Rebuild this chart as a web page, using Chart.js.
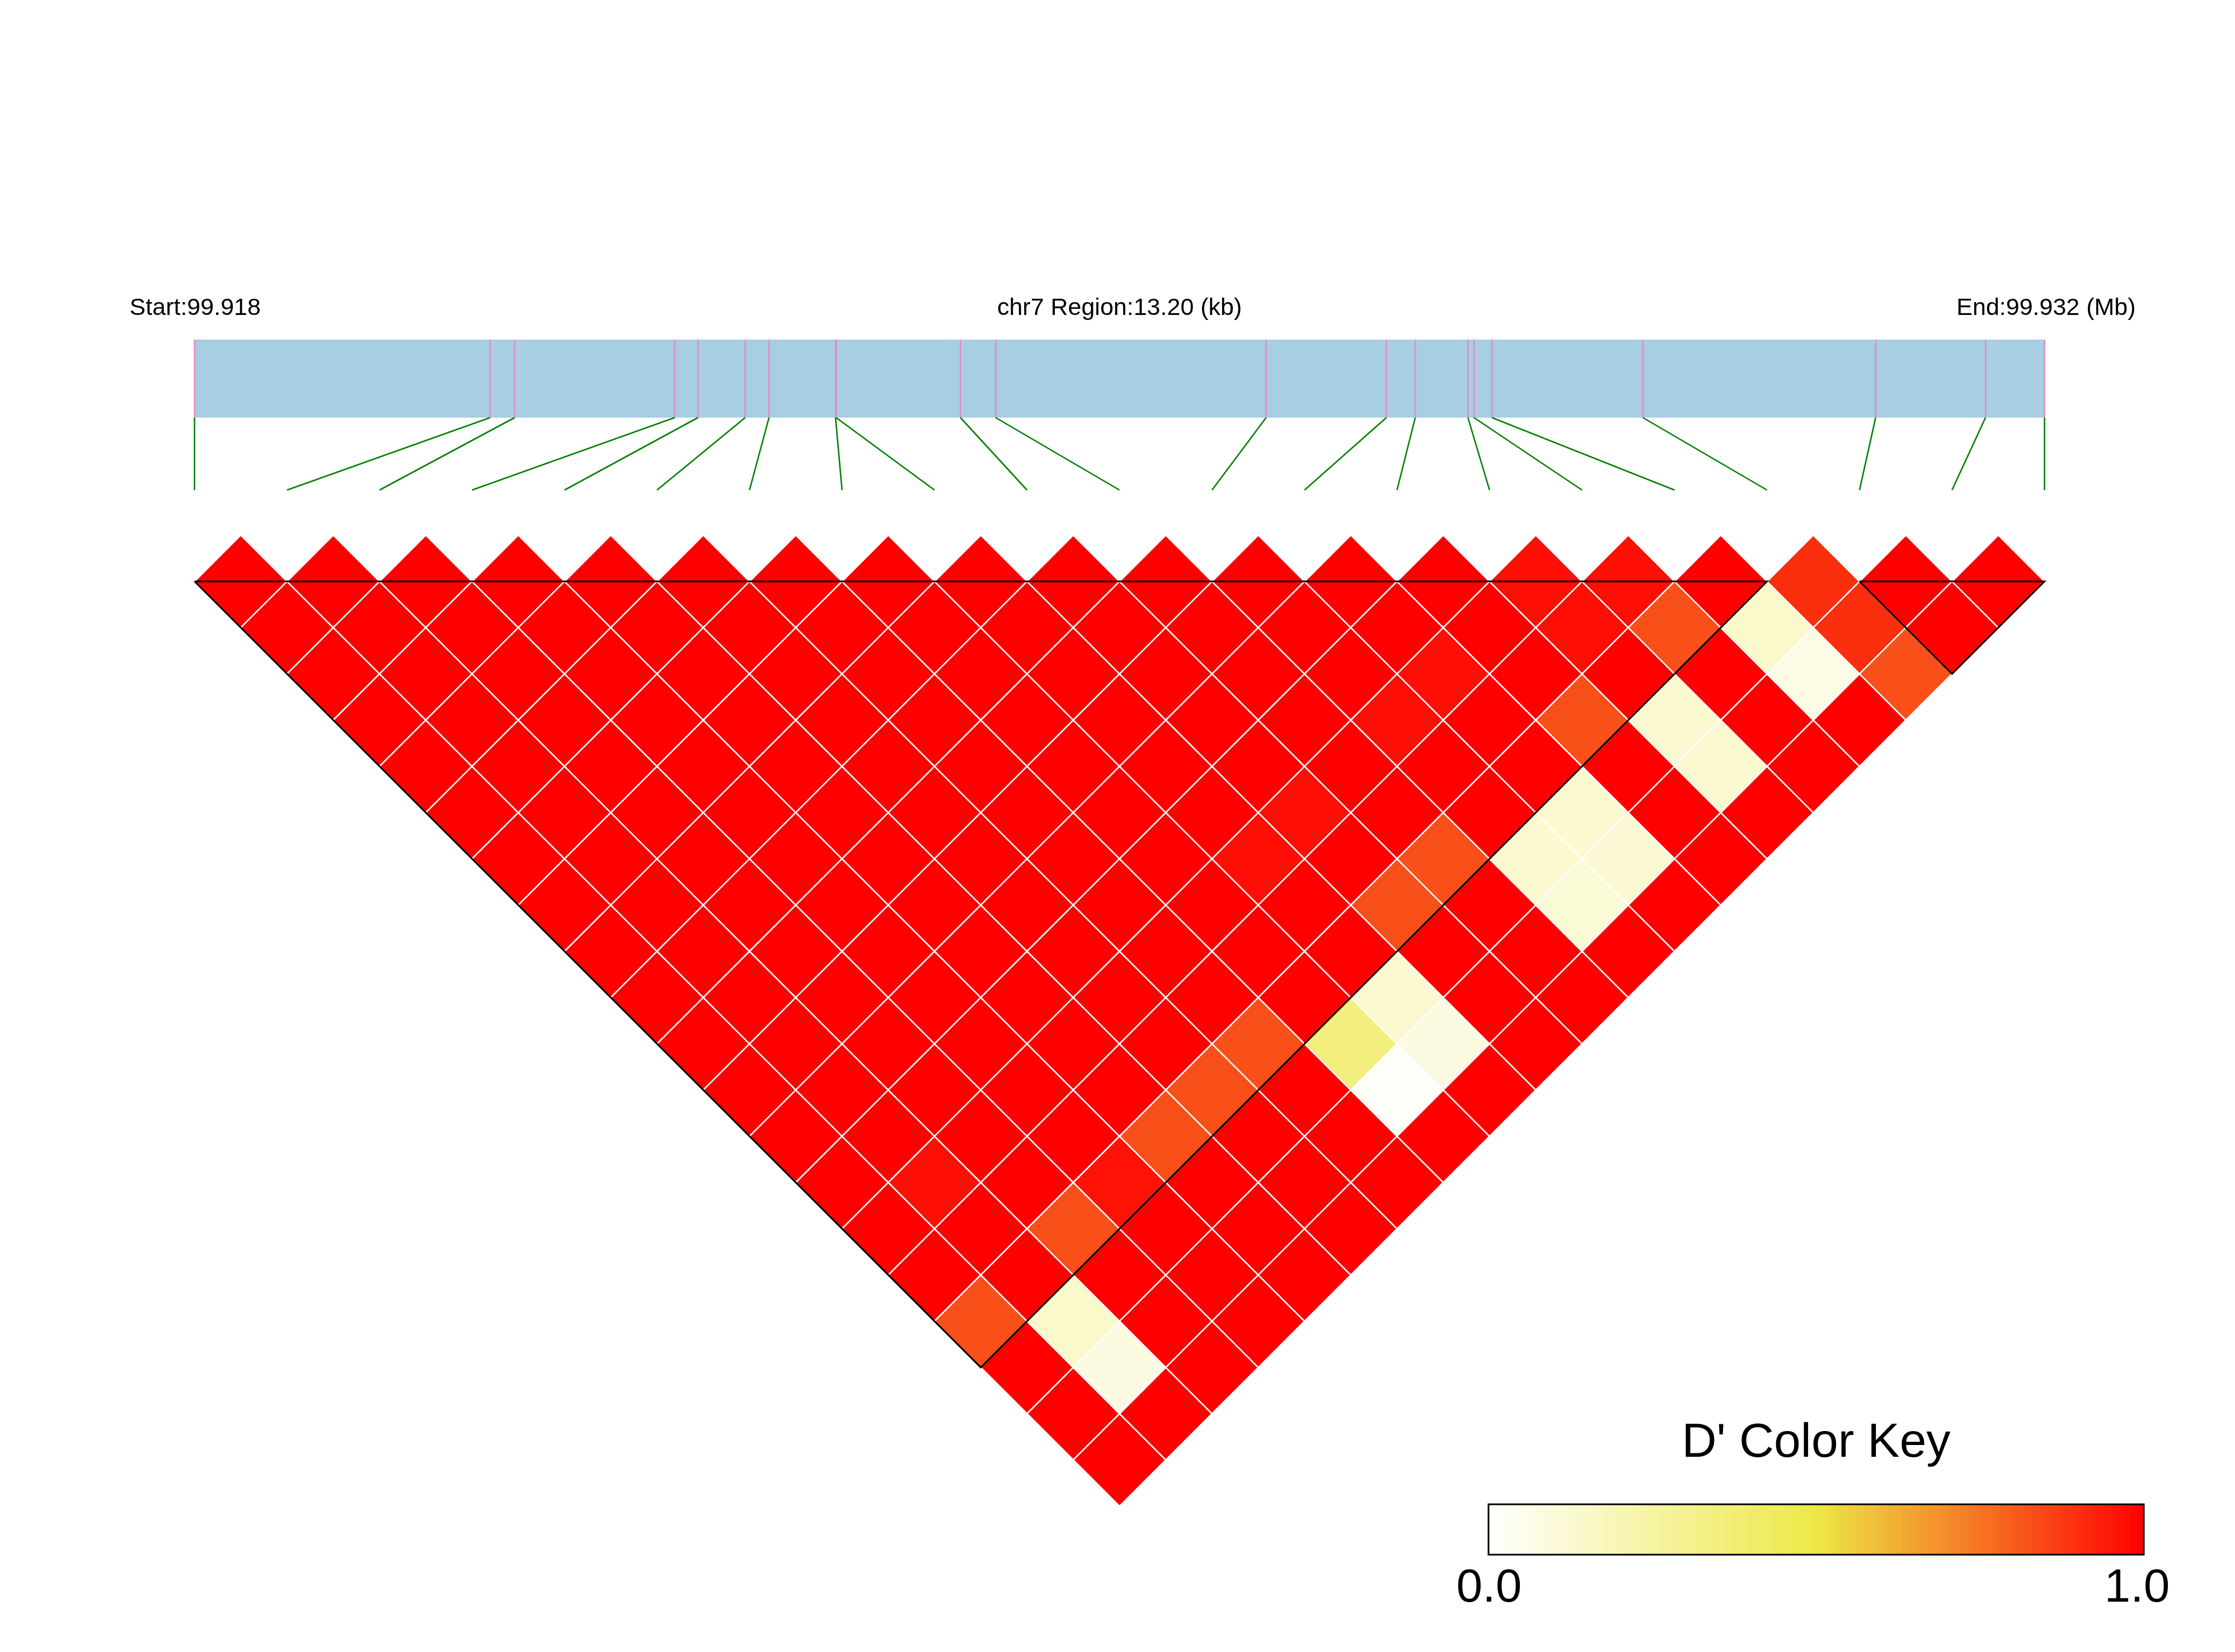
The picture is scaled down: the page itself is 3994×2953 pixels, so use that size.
<!DOCTYPE html>
<html>
<head>
<meta charset="utf-8">
<script src="https://cdn.jsdelivr.net/npm/chart.js@4.4.0/dist/chart.umd.min.js"></script>
<style>
html,body{margin:0;padding:0;background:#ffffff;}
canvas{display:block;}
</style>
</head>
<body>
<canvas id="c" width="3994" height="2953"></canvas>
<script>
// ---------------- DATA ----------------
const chromName = 'chr7';
const startLabel = 'Start:99.918';
const regionLabel = 'chr7 Region:13.20 (kb)';
const endLabel = 'End:99.932 (Mb)';
const regionLenBp = 13200;
// SNP positions (bp offset from region start)
const snpOffsetBp = [0, 2109, 2284, 3426, 3592, 3929, 4099, 4574, 4578, 5465, 5716,
                     7646, 8504, 8710, 9086, 9129, 9257, 10334, 11995, 12779, 13200];
// D' upper triangle: row i holds values for j = i+1 .. 20
const dRow0  = [1,1,1,1,1,1,1,1,1,1,1,1,1,1,1,1,0.83,1,1,1];
const dRow1  = [1,1,1,1,1,1,1,1,1,1,1,1,1,0.97,1,1,0.14,0.08,1];
const dRow2  = [1,1,1,1,1,1,1,1,1,1,1,1,1,1,0.83,1,1,1];
const dRow3  = [1,1,1,1,1,1,1,1,1,1,1,1,1,0.96,1,1,1];
const dRow4  = [1,1,1,1,1,1,1,1,1,1,1,1,0.83,1,1,1];
const dRow5  = [1,1,1,1,1,1,1,1,1,1,1,0.83,1,1,1];
const dRow6  = [1,1,1,1,1,1,1,1,1,1,0.83,1,1,1];
const dRow7  = [1,1,1,1,1,1,1,1,1,1,0.35,0.02,1];
const dRow8  = [1,1,1,1,1,1,0.97,1,1,0.13,0.08,1];
const dRow9  = [1,1,1,1,1,0.97,1,0.83,1,1,1];
const dRow10 = [1,1,1,1,1,1,0.83,1,1,1];
const dRow11 = [1,1,1,0.97,1,1,0.13,0.11,1];
const dRow12 = [1,1,0.97,1,1,0.13,0.12,1];
const dRow13 = [1,1,1,0.83,1,1,1];
const dRow14 = [0.97,0.97,1,0.13,0.13,1];
const dRow15 = [0.97,0.83,1,1,1];
const dRow16 = [1,0.14,0.07,1];
const dRow17 = [0.90,0.90,0.83];
const dRow18 = [1,1];
const dRow19 = [1];
const dRows = [dRow0,dRow1,dRow2,dRow3,dRow4,dRow5,dRow6,dRow7,dRow8,dRow9,dRow10,
               dRow11,dRow12,dRow13,dRow14,dRow15,dRow16,dRow17,dRow18,dRow19];
// LD blocks (first SNP index, last SNP index)
const blockStart = [0, 18];
const blockEnd   = [17, 20];
// colour key
const keyTitle = "D' Color Key";
const keyTickLabels = ['0.0', '1.0'];

// ---------------- LAYOUT ----------------
const W = 3994, H = 2953;
const nSnp = snpOffsetBp.length;
const padL = 347.6, padR = 340.4;
const unitPx = (W - padL - padR) / (nSnp - 1);
const baselinePx = 1039.3;
const yMin = -baselinePx / unitPx;
const yMax = (H - baselinePx) / unitPx;
const barTopU = (607 - baselinePx) / unitPx;
const barBotU = (746.5 - baselinePx) / unitPx;
const linkEndU = (876 - baselinePx) / unitPx;

function posToUnit(bp) { return bp / regionLenBp * (nSnp - 1); }

function dColor(v) {
  let r, g, b;
  if (v <= 0.5) {
    const s = v / 0.5;
    r = 255 + (237 - 255) * s; g = 255 + (232 - 255) * s; b = 255 + (70 - 255) * s;
  } else {
    const s = (v - 0.5) / 0.5;
    r = 237 + (255 - 237) * s; g = 232 * (1 - s); b = 70 * (1 - s);
  }
  return 'rgb(' + Math.round(r) + ',' + Math.round(g) + ',' + Math.round(b) + ')';
}

// ---------------- DATASETS ----------------
const datasets = [];

// chromosome region bar
datasets.push({
  type: 'line', order: 20,
  data: [{x: posToUnit(snpOffsetBp[0]), y: barTopU}, {x: posToUnit(snpOffsetBp[nSnp-1]), y: barTopU}],
  borderWidth: 0, borderColor: 'rgba(0,0,0,0)', pointRadius: 0,
  backgroundColor: '#a7cee1', fill: {value: barBotU}, clip: false
});

// SNP ticks on bar + connectors
snpOffsetBp.forEach((bp, i) => {
  const xu = posToUnit(bp);
  datasets.push({
    type: 'line', order: 15,
    data: [{x: xu, y: barTopU}, {x: xu, y: barBotU}],
    borderColor: '#e68ac4', borderWidth: 2.6, pointRadius: 0, fill: false, clip: false
  });
  datasets.push({
    type: 'line', order: 14,
    data: [{x: xu, y: barBotU}, {x: i, y: linkEndU}],
    borderColor: '#008000', borderWidth: 2.6, pointRadius: 0, fill: false, clip: false
  });
});

// LD cells
const cells = [];
dRows.forEach((row, i) => {
  row.forEach((v, idx) => {
    const j = i + 1 + idx;
    cells.push({x: (i + j) / 2, y: (j - i - 1) / 2, v: v});
  });
});
datasets.push({
  type: 'scatter', order: 5,
  data: cells,
  pointStyle: 'rectRot',
  pointRadius: (ctx) => {
    const xs = ctx.chart.scales.x;
    return (xs.getPixelForValue(1) - xs.getPixelForValue(0)) / 2;
  },
  pointBackgroundColor: (ctx) => ctx.raw ? dColor(ctx.raw.v) : '#f00',
  pointBorderColor: '#ffffff',
  pointBorderWidth: 2.5,
  clip: false
});

// block outlines
blockStart.forEach((a, k) => {
  const b = blockEnd[k];
  datasets.push({
    type: 'line', order: 0,
    data: [{x: a, y: 0}, {x: (a + b) / 2, y: (b - a) / 2}, {x: b, y: 0}, {x: a, y: 0}],
    borderColor: '#000000', borderWidth: 3, pointRadius: 0, fill: false,
    borderJoinStyle: 'miter', clip: false
  });
});

// ---------------- TEXT + KEY ----------------
const textPlugin = {
  id: 'ldText',
  afterDraw(chart) {
    const ctx = chart.ctx;
    const xs = chart.scales.x, ys = chart.scales.y;
    ctx.save();
    ctx.fillStyle = '#000';
    ctx.textBaseline = 'alphabetic';
    ctx.font = '43px "Liberation Sans", Arial, sans-serif';
    const yTxt = ys.getPixelForValue(barTopU) - 44;
    const xl = xs.getPixelForValue(0), xr = xs.getPixelForValue(nSnp - 1);
    ctx.textAlign = 'left';
    ctx.fillText(startLabel, xl - 116, yTxt);
    ctx.textAlign = 'center';
    ctx.fillText(regionLabel, (xl + xr) / 2, yTxt);
    ctx.textAlign = 'right';
    ctx.fillText(endLabel, xr + 163, yTxt);

    // colour key
    const kL = 2660, kR = 3831, kT = 2689, kB = 2779;
    const nBands = 100;
    const bw = (kR - kL) / nBands;
    for (let b = 0; b < nBands; b++) {
      ctx.fillStyle = dColor((b + 0.5) / nBands);
      ctx.fillRect(kL + b * bw, kT, bw + 0.8, kB - kT);
    }
    ctx.strokeStyle = '#000';
    ctx.lineWidth = 3;
    ctx.strokeRect(kL, kT, kR - kL, kB - kT);
    ctx.fillStyle = '#000';
    ctx.textAlign = 'center';
    ctx.font = '86px "Liberation Sans", Arial, sans-serif';
    ctx.fillText(keyTitle, (kL + kR) / 2, 2604);
    ctx.font = '84px "Liberation Sans", Arial, sans-serif';
    ctx.fillText(keyTickLabels[0], kL + 1, 2863);
    ctx.fillText(keyTickLabels[1], kR - 12, 2863);
    ctx.restore();
  }
};

new Chart(document.getElementById('c'), {
  type: 'scatter',
  data: { datasets: datasets },
  options: {
    responsive: false,
    devicePixelRatio: 1,
    animation: false,
    events: [],
    layout: { padding: { left: padL, right: padR, top: 0, bottom: 0 } },
    plugins: { legend: { display: false }, tooltip: { enabled: false }, title: { display: false } },
    scales: {
      x: { type: 'linear', min: 0, max: nSnp - 1, display: false },
      y: { type: 'linear', min: yMin, max: yMax, reverse: true, display: false }
    }
  },
  plugins: [textPlugin]
});
</script>
</body>
</html>
